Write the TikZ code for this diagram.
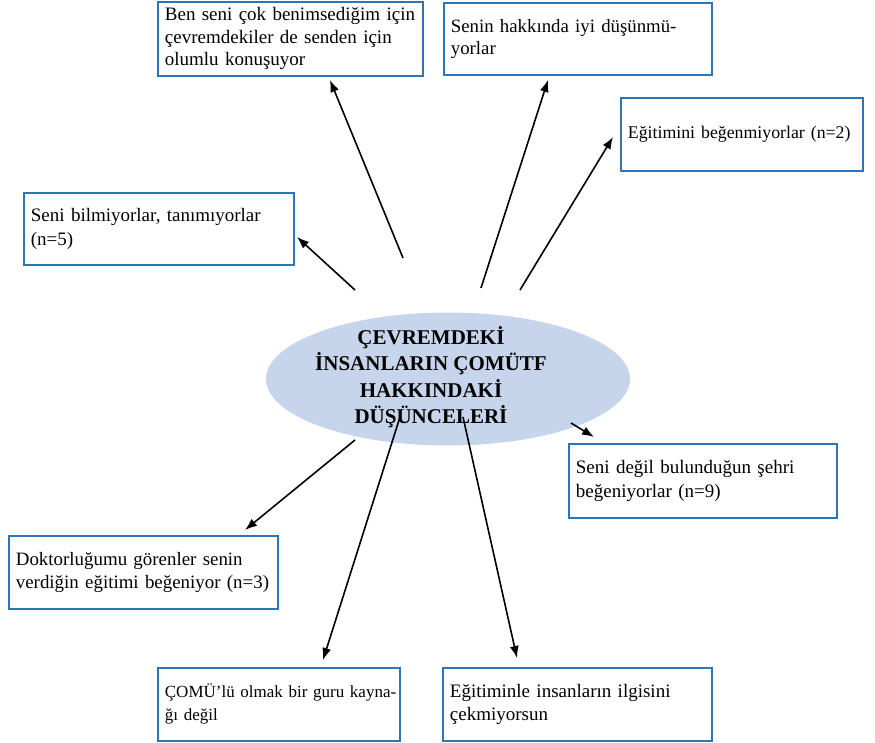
\documentclass[tikz,border=0pt]{standalone}
\usepackage{fontspec}
\setmainfont{Liberation Serif}
\usetikzlibrary{shapes.geometric,arrows.meta}
\definecolor{boxblue}{HTML}{2E75B6}
\definecolor{ellfill}{HTML}{C6D4EC}
\hfuzz=100pt
\hbadness=10000
\tikzset{
  tbox/.style={draw=boxblue, line width=1.8pt, anchor=north west, inner xsep=7pt, inner ysep=0pt,
    align=left},
  arr/.style={line width=1.6pt, -{Latex[length=12pt,width=9pt]}}
}
\newcommand{\tb}[8]{\node[tbox, text width=#4-14pt, minimum width=#4, minimum height=#5,
  font=\fontsize{#6}{#7}\selectfont] (#1) at (#2,#3) {#8};}
\begin{document}
\begin{tikzpicture}[x=1pt,y=-1pt]
\useasboundingbox[fill=white] (0,0) rectangle (875,743);
\fill[ellfill] (448,379) ellipse [x radius=182, y radius=66.5];
\node[inner sep=0pt, align=center,
  font=\fontsize{21}{26.5}\selectfont\bfseries] (c) at (431,377)
  {ÇEVREMDEKİ\\İNSANLARIN ÇOMÜTF\\HAKKINDAKİ\\DÜŞÜNCELERİ};
\tb{b1}{157}{1}{265pt}{74pt}{19}{22.5}{\mbox{Ben seni çok benimsediğim için}\\\mbox{çevremdekiler de senden için}\\olumlu konuşuyor}
\tb{b2}{443}{2}{268pt}{72pt}{18.8}{22.5}{\mbox{Senin hakkında iyi düşünmü-}\\yorlar}
\tb{b3}{620}{97}{242pt}{73pt}{17.8}{22}{\mbox{Eğitimini beğenmiyorlar (n=2)}}
\tb{b4}{23}{192}{270pt}{72pt}{19}{23.5}{\mbox{Seni bilmiyorlar, tanımıyorlar}\\(n=5)}
\tb{b6}{568}{443}{268pt}{74pt}{19}{23.5}{\mbox{Seni değil bulunduğun şehri}\\beğeniyorlar (n=9)}
\tb{b7}{8}{535}{269pt}{73pt}{18.9}{23.5}{\mbox{Doktorluğumu görenler senin}\\\mbox{verdiğin eğitimi beğeniyor (n=3)}}
\tb{b8}{157}{667}{242pt}{73pt}{17}{23}{\mbox{ÇOMÜ’lü olmak bir guru kayna-}\\ğı değil}
\tb{b9}{442}{667}{269pt}{73pt}{19}{23}{\mbox{Eğitiminle insanların ilgisini}\\çekmiyorsun}
% arrow start points
\coordinate (s1) at (403,258);
\coordinate (s2) at (481,288);
\coordinate (s3) at (520,290);
\coordinate (s4) at (355,290);
\coordinate (s6) at (571,423);
\coordinate (s7) at (355,440);
\coordinate (s8) at (400,417);
\coordinate (s9) at (463,417);
% arrow tips
\coordinate (t1) at (330,80);
\coordinate (t2) at (548,80);
\coordinate (t3) at (613,137);
\coordinate (t4) at (297,237);
\coordinate (t6) at (594,437);
\coordinate (t7) at (245,530);
\coordinate (t8) at (323,660);
\coordinate (t9) at (517,658);
\foreach \i in {1,2,3,4,6,7,8,9} {\draw[arr] (s\i) -- (t\i);}
\end{tikzpicture}
\end{document}
